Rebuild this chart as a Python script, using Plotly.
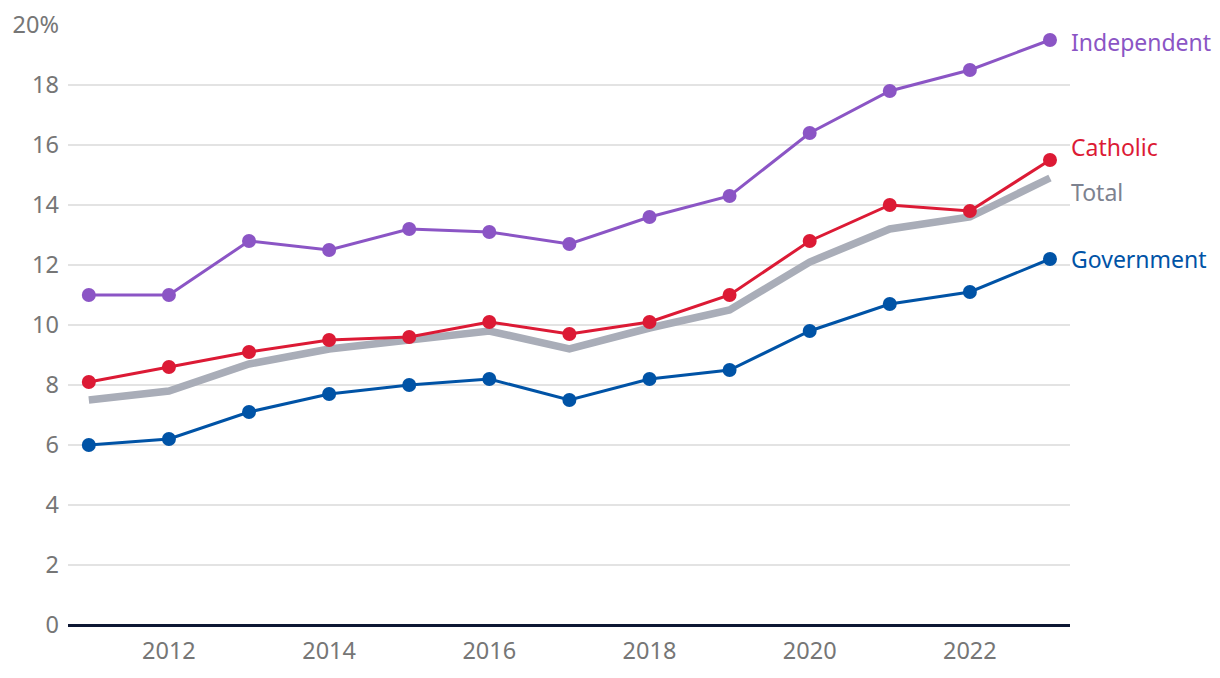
import plotly.graph_objects as go

years = list(range(2011, 2024))
independent = [11.0, 11.0, 12.8, 12.5, 13.2, 13.1, 12.7, 13.6, 14.3, 16.4, 17.8, 18.5, 19.5]
catholic = [8.1, 8.6, 9.1, 9.5, 9.6, 10.1, 9.7, 10.1, 11.0, 12.8, 14.0, 13.8, 15.5]
total = [7.5, 7.8, 8.7, 9.2, 9.5, 9.8, 9.2, 9.9, 10.5, 12.1, 13.2, 13.6, 14.9]
government = [6.0, 6.2, 7.1, 7.7, 8.0, 8.2, 7.5, 8.2, 8.5, 9.8, 10.7, 11.1, 12.2]

y_tickvals = [0, 2, 4, 6, 8, 10, 12, 14, 16, 18, 20]
y_ticktext = ["0", "2", "4", "6", "8", "10", "12", "14", "16", "18", "20%"]
x_tickvals = [2012, 2014, 2016, 2018, 2020, 2022]

labels = [
    ("Independent", 19.45, "#8b55c5"),
    ("Catholic", 15.95, "#dc1a35"),
    ("Total", 14.45, "#7d8290"),
    ("Government", 12.2, "#0053a6"),
]

FONT = "Noto Sans"

fig = go.Figure()
fig.add_trace(go.Scatter(x=years, y=total, mode="lines",
                         line=dict(color="#a9adb8", width=7.5), hoverinfo="skip"))
fig.add_trace(go.Scatter(x=years, y=government, mode="lines+markers",
                         line=dict(color="#0053a6", width=3),
                         marker=dict(size=14, color="#0053a6")))
fig.add_trace(go.Scatter(x=years, y=catholic, mode="lines+markers",
                         line=dict(color="#dc1a35", width=3),
                         marker=dict(size=14, color="#dc1a35")))
fig.add_trace(go.Scatter(x=years, y=independent, mode="lines+markers",
                         line=dict(color="#8b55c5", width=3),
                         marker=dict(size=14, color="#8b55c5")))

for text, yv, col in labels:
    fig.add_annotation(x=1, xref="paper", y=yv, yref="y", text=text,
                       showarrow=False, xanchor="left", yanchor="middle",
                       xshift=-1, font=dict(family=FONT, size=23, color=col))

fig.update_layout(
    width=1212, height=670,
    margin=dict(l=60, r=150, t=17, b=53, autoexpand=False),
    paper_bgcolor="white", plot_bgcolor="white",
    showlegend=False,
    font=dict(family=FONT, size=23, color="#767676"),
    xaxis=dict(range=[2010.74, 2023.25], tickvals=x_tickvals,
               showgrid=False, zeroline=False, showline=False,
               ticks="", ticklabelstandoff=9, automargin=False,
               tickfont=dict(size=23.5, color="#767676")),
    yaxis=dict(range=[0, 20], tickvals=y_tickvals, ticktext=y_ticktext,
               showgrid=True, gridcolor="#e3e3e3", gridwidth=1.5,
               zeroline=True, zerolinecolor="#0d1733", zerolinewidth=3,
               ticks="", ticklabelstandoff=8, automargin=False,
               tickfont=dict(size=23.5, color="#767676")),
)

fig.write_html("out.html")
